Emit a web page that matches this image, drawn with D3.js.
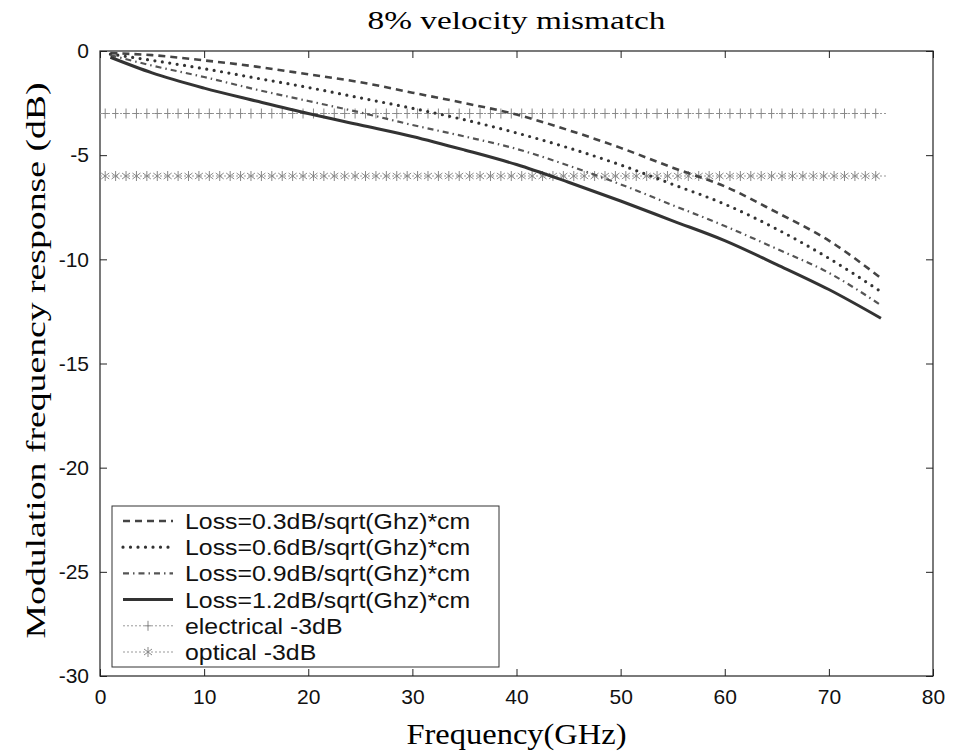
<!DOCTYPE html>
<html>
<head>
<meta charset="utf-8">
<script src="https://cdn.jsdelivr.net/npm/d3@7"></script>
<style>
  body { margin: 0; background: #fff; }
  .tick text { font-family: "Liberation Sans", Arial, sans-serif; }
</style>
</head>
<body>
<div id="chart"></div>
<script>
// frequency grid (GHz) the curves were read at
var freq = [1, 5, 10, 15, 20, 25, 30, 35, 40, 45, 50, 55, 60, 65, 70, 75];

// modulation response (dB) for each loss value
var loss03 = [-0.1, -0.2, -0.45, -0.75, -1.12, -1.5, -2.0, -2.5, -3.05, -3.8, -4.65, -5.6, -6.5, -7.75, -9.1, -10.9];
var loss06 = [-0.15, -0.45, -0.85, -1.3, -1.75, -2.25, -2.75, -3.3, -3.93, -4.65, -5.47, -6.4, -7.35, -8.55, -9.95, -11.55];
var loss09 = [-0.2, -0.7, -1.25, -1.85, -2.4, -2.95, -3.55, -4.1, -4.7, -5.5, -6.4, -7.4, -8.4, -9.5, -10.65, -12.2];
var loss12 = [-0.3, -1.05, -1.78, -2.4, -3.0, -3.55, -4.1, -4.75, -5.45, -6.3, -7.2, -8.15, -9.1, -10.25, -11.45, -12.83];

// reference levels
var electricalLevel = -3;
var opticalLevel = -6;
var refStart = 0, refEnd = 75.5;

var xTicks = [0, 10, 20, 30, 40, 50, 60, 70, 80];
var yTicks = [0, -5, -10, -15, -20, -25, -30];

var legendLabels = [
  "Loss=0.3dB/sqrt(Ghz)*cm",
  "Loss=0.6dB/sqrt(Ghz)*cm",
  "Loss=0.9dB/sqrt(Ghz)*cm",
  "Loss=1.2dB/sqrt(Ghz)*cm",
  "electrical -3dB",
  "optical -3dB"
];

var svgWidth = 955, svgHeight = 756;
var margin = {top: 51, right: 22, bottom: 80, left: 100};
var width = svgWidth - margin.left - margin.right;
var height = svgHeight - margin.top - margin.bottom;

var svg = d3.select("#chart").append("svg")
  .attr("width", svgWidth)
  .attr("height", svgHeight);

var chartGroup = svg.append("g")
  .attr("transform", `translate(${margin.left}, ${margin.top})`);

var x = d3.scaleLinear().domain([0, 80]).range([0, width]);
var y = d3.scaleLinear().domain([-30, 0]).range([height, 0]);

// plain hyphen labels like the original
var fmt = d => String(d);

// axes, ticks pointing inward like matlab
chartGroup.append("g")
  .attr("transform", `translate(0, ${height})`)
  .call(d3.axisBottom(x).tickValues(xTicks).tickFormat(fmt).tickSizeInner(-7).tickSizeOuter(0).tickPadding(13))
  .call(g => g.select(".domain").remove());
chartGroup.append("g")
  .call(d3.axisTop(x).tickValues(xTicks).tickSizeInner(-7).tickSizeOuter(0).tickFormat(""))
  .call(g => g.select(".domain").remove());
chartGroup.append("g")
  .call(d3.axisLeft(y).tickValues(yTicks).tickFormat(fmt).tickSizeInner(-7).tickSizeOuter(0).tickPadding(11))
  .call(g => g.select(".domain").remove());
chartGroup.append("g")
  .attr("transform", `translate(${width}, 0)`)
  .call(d3.axisRight(y).tickValues(yTicks).tickSizeInner(-7).tickSizeOuter(0).tickFormat(""))
  .call(g => g.select(".domain").remove());

chartGroup.selectAll(".tick text")
  .attr("font-size", "21px")
  .attr("fill", "#111");
chartGroup.selectAll(".tick line").attr("stroke", "#222");

chartGroup.append("rect")
  .attr("width", width).attr("height", height)
  .attr("fill", "none").attr("stroke", "#222").attr("stroke-width", 1.2);

// reference lines with markers
var refLine = d3.line().x(d => x(d[0])).y(d => y(d[1]));
var markerFreq = d3.range(0.5, refEnd, 1);

function drawRef(level, kind) {
  chartGroup.append("path")
    .datum([[refStart, level], [refEnd, level]])
    .attr("d", refLine)
    .attr("fill", "none")
    .attr("stroke", "#999")
    .attr("stroke-width", 1)
    .attr("stroke-dasharray", "2,2");
  var m = chartGroup.append("g").selectAll("g")
    .data(markerFreq).enter().append("g")
    .attr("transform", d => `translate(${x(d)}, ${y(level)})`)
    .attr("stroke", "#888").attr("stroke-width", 1);
  drawMarker(m, kind);
}

function drawMarker(sel, kind) {
  if (kind === "plus") {
    sel.append("line").attr("x1", 0).attr("x2", 0).attr("y1", -5).attr("y2", 5);
    sel.append("line").attr("x1", -3).attr("x2", 3).attr("y1", 0).attr("y2", 0);
  } else {
    sel.append("line").attr("x1", 0).attr("x2", 0).attr("y1", -5).attr("y2", 5);
    sel.append("line").attr("x1", -4).attr("x2", 4).attr("y1", -3).attr("y2", 3);
    sel.append("line").attr("x1", -4).attr("x2", 4).attr("y1", 3).attr("y2", -3);
  }
}

drawRef(electricalLevel, "plus");
drawRef(opticalLevel, "star");

// loss curves
var styles = [
  {data: loss03, dash: "7,5", width: 2.6, color: "#444", cap: "butt"},
  {data: loss06, dash: "0,7.5", width: 3.2, color: "#333", cap: "round"},
  {data: loss09, dash: "6,4,1.5,4", width: 2.2, color: "#555", cap: "butt"},
  {data: loss12, dash: null, width: 3, color: "#333", cap: "butt"}
];

var curve = d3.line()
  .x((d, i) => x(freq[i]))
  .y(d => y(d))
  .curve(d3.curveMonotoneX);

styles.forEach(function(s) {
  chartGroup.append("path")
    .datum(s.data)
    .attr("d", curve)
    .attr("fill", "none")
    .attr("stroke", s.color)
    .attr("stroke-width", s.width)
    .attr("stroke-linecap", s.cap)
    .attr("stroke-dasharray", s.dash);
});

// legend
var legend = svg.append("g").attr("transform", "translate(112, 506)");
legend.append("rect")
  .attr("width", 387).attr("height", 161)
  .attr("fill", "#fff").attr("stroke", "#333").attr("stroke-width", 1);

legendLabels.forEach(function(label, i) {
  var ly = 15 + i * 26.2;
  var row = legend.append("g").attr("transform", `translate(0, ${ly})`);
  if (i < 4) {
    var s = styles[i];
    row.append("line")
      .attr("x1", 11).attr("x2", 61).attr("y1", 0).attr("y2", 0)
      .attr("stroke", s.color).attr("stroke-width", s.width)
      .attr("stroke-linecap", s.cap).attr("stroke-dasharray", s.dash);
  } else {
    row.append("line")
      .attr("x1", 11).attr("x2", 61).attr("y1", 0).attr("y2", 0)
      .attr("stroke", "#999").attr("stroke-width", 1).attr("stroke-dasharray", "2,2");
    var m = row.append("g").attr("transform", "translate(36, 0)")
      .attr("stroke", "#888").attr("stroke-width", 1);
    drawMarker(m, i === 4 ? "plus" : "star");
  }
  // the scan is a bit wide, so stretch text horizontally
  row.append("text")
    .attr("transform", "translate(73, 0) scale(1.13, 1)")
    .attr("dy", "0.36em")
    .attr("font-family", "Liberation Sans, Arial, sans-serif")
    .attr("font-size", "22px")
    .attr("fill", "#111")
    .text(label);
});

// titles
svg.append("text")
  .attr("x", margin.left + width / 2).attr("y", 29)
  .attr("text-anchor", "middle")
  .attr("font-family", "Liberation Serif, Times New Roman, serif")
  .attr("font-size", "26px")
  .attr("textLength", 298)
  .attr("lengthAdjust", "spacingAndGlyphs")
  .text("8% velocity mismatch");

svg.append("text")
  .attr("x", margin.left + width / 2).attr("y", 744)
  .attr("text-anchor", "middle")
  .attr("font-family", "Liberation Serif, Times New Roman, serif")
  .attr("font-size", "29px")
  .attr("textLength", 220)
  .attr("lengthAdjust", "spacingAndGlyphs")
  .text("Frequency(GHz)");

svg.append("text")
  .attr("transform", `translate(45, ${margin.top + height / 2 - 3}) rotate(-90)`)
  .attr("text-anchor", "middle")
  .attr("font-family", "Liberation Serif, Times New Roman, serif")
  .attr("font-size", "28px")
  .attr("textLength", 556)
  .attr("lengthAdjust", "spacingAndGlyphs")
  .text("Modulation frequency response (dB)");
</script>
</body>
</html>
